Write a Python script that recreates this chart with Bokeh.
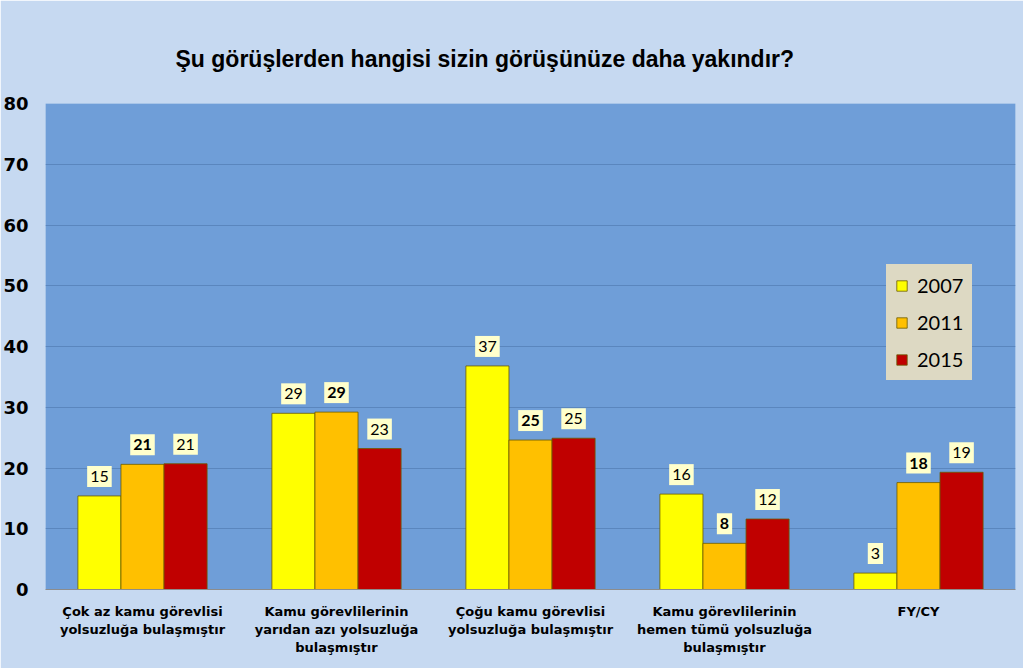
from bokeh.plotting import figure
from bokeh.models import FactorRange, Range1d, ColumnDataSource, FixedTicker
from bokeh.transform import dodge
from bokeh.core.properties import value
from bokeh.embed import file_html
from bokeh.resources import INLINE

categories = [
    "Çok az kamu görevlisi\nyolsuzluğa bulaşmıştır",
    "Kamu görevlilerinin\nyarıdan azı yolsuzluğa\nbulaşmıştır",
    "Çoğu kamu görevlisi\nyolsuzluğa bulaşmıştır",
    "Kamu görevlilerinin\nhemen tümü yolsuzluğa\nbulaşmıştır",
    "FY/CY",
]
years = ["2007", "2011", "2015"]
v2007 = [15.4, 29.0, 36.8, 15.7, 2.7]
v2011 = [20.6, 29.2, 24.6, 7.6, 17.6]
v2015 = [20.7, 23.2, 24.9, 11.6, 19.3]
y_ticks = [0, 10, 20, 30, 40, 50, 60, 70, 80]
title = "Şu görüşlerden hangisi sizin görüşünüze daha yakındır?"

colors = ["#FFFF00", "#FFC000", "#C00000"]
series = [v2007, v2011, v2015]

data = dict(cat=categories)
for yr, vals in zip(years, series):
    data["v" + yr] = vals
    data["l" + yr] = [f"{v:.0f}" for v in vals]
source = ColumnDataSource(data)

p = figure(
    x_range=FactorRange(factors=categories, range_padding=0),
    y_range=Range1d(0, 80),
    width=1023, height=668,
    output_backend="svg", toolbar_location=None,
    min_border_left=45, min_border_right=8, min_border_top=103, min_border_bottom=79,
    background_fill_color="#6F9ED8", border_fill_color="#C6D9F1",
    outline_line_color=None,
)

p.title.text = title
p.title.text_font = "Liberation Sans"
p.title.text_font_style = "bold"
p.title.text_font_size = "23px"
p.title.text_color = "#000000"
p.title.align = "left"
p.title.offset = 130
p.title.standoff = 64

bw = 0.222
offsets = [-bw, 0.0, bw]
for yr, col, off in zip(years, colors, offsets):
    p.vbar(x=dodge("cat", off, range=p.x_range), top="v" + yr, width=bw, source=source,
           fill_color=col, line_color="#6B5B00", line_width=0.8, legend_label=yr)
    p.text(
        x=dodge("cat", off, range=p.x_range), y="v" + yr, text="l" + yr, source=source,
        text_align="center", text_baseline="bottom", y_offset=-9,
        text_font=value("Lato"), text_font_size="16px",
        text_font_style="bold" if yr == "2011" else "normal",
        text_color="#000000",
        background_fill_color="#FFFFCC", padding=(3, 5),
    )

p.yaxis.ticker = FixedTicker(ticks=y_ticks)
p.yaxis.axis_line_color = None
p.yaxis.major_tick_line_color = None
p.yaxis.minor_tick_line_color = None
p.yaxis.major_label_standoff = 11
p.yaxis.major_label_text_font = "DejaVu Sans"
p.yaxis.major_label_text_font_style = "bold"
p.yaxis.major_label_text_font_size = "18px"
p.yaxis.major_label_text_color = "#000000"

p.xaxis.axis_line_color = "#8C8C8C"
p.xaxis.major_tick_line_color = None
p.xaxis.minor_tick_line_color = None
p.xaxis.major_label_standoff = 8
p.xaxis.major_label_text_font = "DejaVu Sans"
p.xaxis.major_label_text_font_style = "bold"
p.xaxis.major_label_text_font_size = "13px"
p.xaxis.major_label_text_line_height = 1.2
p.xaxis.major_label_text_color = "#000000"

p.xgrid.grid_line_color = None
p.ygrid.grid_line_color = "#5A86BE"
p.ygrid.grid_line_width = 1

lg = p.legend[0]
lg.location = (841, 209)
lg.background_fill_color = "#DDD9C3"
lg.background_fill_alpha = 1
lg.border_line_color = "#DDD9C3"
lg.border_line_width = 9
lg.label_text_font = "Lato"
lg.label_text_font_size = "20px"
lg.label_text_color = "#000000"
lg.glyph_width = 13
lg.glyph_height = 13
lg.label_height = 20
lg.spacing = 13
lg.padding = 0
lg.margin = 0
lg.label_standoff = 9

open("out.html", "w").write(file_html(p, INLINE))
